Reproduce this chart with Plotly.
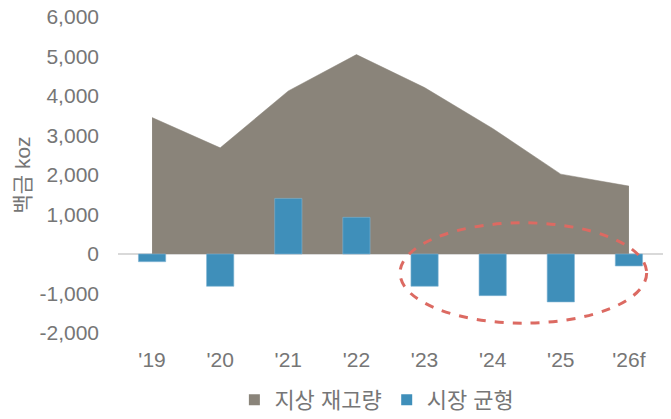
import plotly.graph_objects as go

years = ["'19", "'20", "'21", "'22", "'23", "'24", "'25", "'26f"]
above_ground_stocks = [3455, 2687, 4128, 5048, 4214, 3177, 2022, 1719]
market_balance = [-195, -817, 1408, 928, -817, -1054, -1213, -303]
y_tickvals = [-2000, -1000, 0, 1000, 2000, 3000, 4000, 5000, 6000]
y_ticktext = ["-2,000", "-1,000", "0", "1,000", "2,000", "3,000", "4,000", "5,000", "6,000"]
series_names = ["지상 재고량", "시장 균형"]
# highlight ellipse bounds (category index / koz)
highlight_x = [3.64, 7.26]
highlight_y = [-1750, 790]

AREA = "#8a847a"
BAR = "#3f8fba"
FONT = "Liberation Sans, Arial, Noto Sans CJK KR, sans-serif"
GRAY = "#767676"
Y_RANGE = [-2000, 6000]

fig = go.Figure()
fig.add_trace(go.Scatter(
    x=years, y=above_ground_stocks, fill="tozeroy", mode="lines",
    line=dict(color=AREA, width=0.5), fillcolor=AREA, showlegend=False,
    hoverinfo="skip"))
fig.add_trace(go.Bar(
    x=years, y=market_balance, xaxis="x2", yaxis="y2",
    marker=dict(color=BAR, line=dict(color="#7fb4d3", width=0.6)),
    width=0.4, showlegend=False))
# legend entries
fig.add_trace(go.Scatter(x=[None], y=[None], mode="markers", name=series_names[0],
                         marker=dict(symbol="square", size=11, color=AREA)))
fig.add_trace(go.Scatter(x=[None], y=[None], mode="markers", name=series_names[1],
                         marker=dict(symbol="square", size=11, color=BAR)))

fig.add_shape(type="circle", xref="x", yref="y", layer="above",
              x0=highlight_x[0], x1=highlight_x[1], y0=highlight_y[0], y1=highlight_y[1],
              line=dict(color="#dc6a62", width=3, dash="dash"))

fig.update_layout(
    width=671, height=419,
    margin=dict(l=118, r=8, t=17, b=86, autoexpand=False),
    plot_bgcolor="white", paper_bgcolor="white",
    font=dict(family=FONT, size=21, color=GRAY),
    showlegend=True,
    legend=dict(orientation="h", x=0.475, xanchor="center", y=-0.212, yanchor="middle",
                font=dict(size=22, color=GRAY), itemwidth=30, traceorder="normal"),
    xaxis=dict(type="category", categoryarray=years, range=[-0.5, 7.5], showgrid=False,
               showline=False, ticks="", ticklabelstandoff=12,
               tickfont=dict(size=21, color=GRAY)),
    yaxis=dict(range=Y_RANGE, tickvals=y_tickvals, ticktext=y_ticktext,
               showgrid=False, showline=False, zeroline=True, zerolinecolor="#d9d9d9",
               zerolinewidth=2, ticks="", ticklabelstandoff=18,
               tickfont=dict(size=21, color=GRAY),
               title=dict(text="백금 koz", standoff=3, font=dict(size=21, color=GRAY))),
    xaxis2=dict(type="category", categoryarray=years, range=[-0.5, 7.5], overlaying="x",
                visible=False),
    yaxis2=dict(range=Y_RANGE, overlaying="y", visible=False),
)

fig.write_html("out.html")
